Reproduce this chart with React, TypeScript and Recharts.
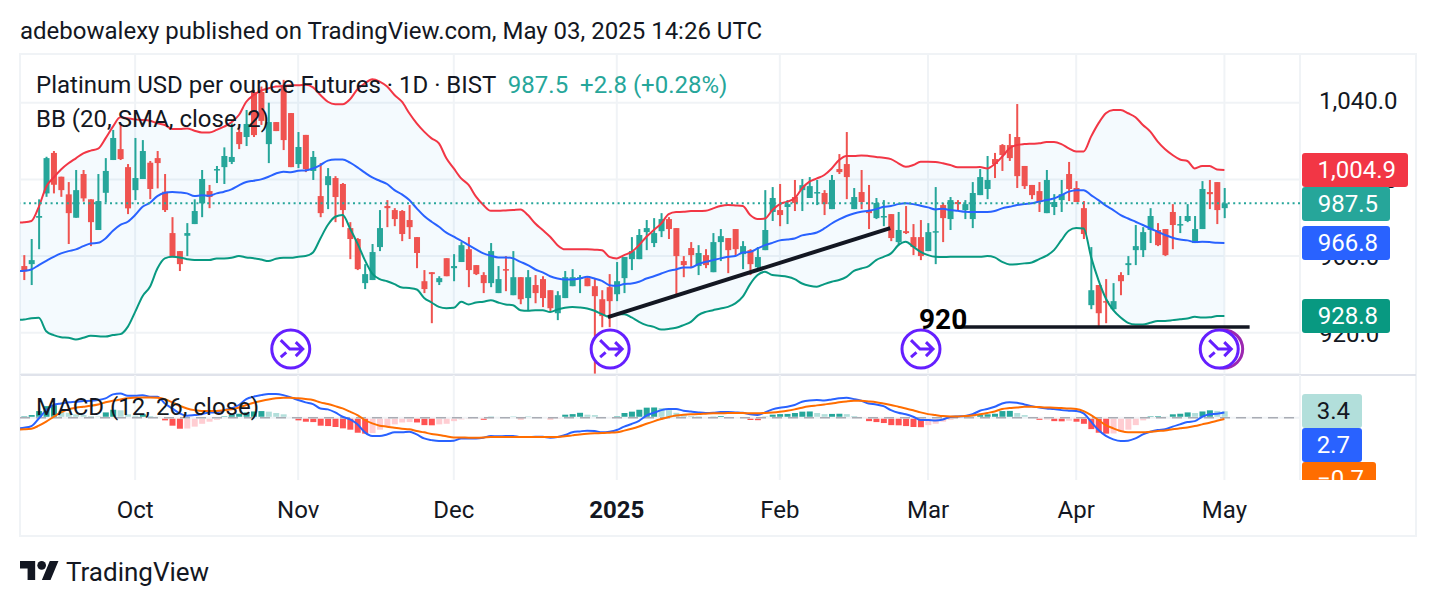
import React from 'react';
import {
  ComposedChart,
  Area,
  Bar,
  Cell,
  Line,
  XAxis,
  YAxis,
  CartesianGrid,
  ReferenceLine,
  ReferenceDot,
} from 'recharts';

const UP = '#26a69a';
const DOWN = '#ef5350';
const INK = '#131722';
const GRID = '#f0f3f6';
const FONT = 'Roboto, sans-serif';

const opens = [
  954.8, 955.8, 980.0, 992.7, 1013.8, 1001.4, 992.2, 980.0, 1002.8, 989.6,
  973.6, 993.0, 1010.1, 1015.8, 1006.4, 994.4, 1000.2, 1008.7, 1011.1, 993.6,
  972.0, 962.6, 970.6, 976.7, 987.5, 993.9, 1004.7, 1006.4, 1009.1, 1024.7,
  1022.1, 1045.6, 1045.6, 1018.4, 1029.9, 1049.3, 1034.6, 1008.0, 1023.2, 1004.4,
  991.3, 997.0, 1000.7, 997.6, 974.6, 968.9, 945.9, 947.5, 964.7, 986.1,
  984.0, 983.5, 978.8, 969.9, 946.9, 951.6, 946.4, 958.9, 953.7, 956.9,
  963.6, 955.3, 950.1, 945.9, 940.7, 953.2, 939.6, 949.0, 938.1, 944.9,
  948.0, 942.2, 930.2, 938.1, 944.3, 948.5, 948.5, 944.3, 937.5, 943.8,
  940.1, 948.5, 958.4, 958.4, 972.5, 966.8, 973.0, 979.3, 974.6, 957.4,
  964.2, 954.8, 960.5, 951.6, 967.3, 969.4, 974.1, 961.0, 963.1, 954.2,
  963.1, 983.0, 984.0, 985.6, 990.8, 994.4, 990.3, 992.9, 992.9, 984.5,
  1005.4, 1008.0, 984.5, 993.4, 983.5, 979.8, 980.3, 981.9, 967.3, 973.0,
  969.9, 969.9, 962.6, 972.5, 986.6, 979.3, 988.2, 984.0, 979.3, 991.8,
  995.0, 1010.6, 1017.9, 1017.9, 1022.1, 1007.0, 997.1, 993.9, 982.4, 985.6,
  989.2, 1002.8, 995.5, 985.0, 934.4, 944.9, 936.5, 932.3, 950.1, 955.3,
  963.1, 963.1, 973.6, 973.6, 974.1, 983.0, 976.2, 978.3, 966.8, 974.1,
  993.4, 998.6, 985.0,
];

const closes = [
  952.0, 957.9, 980.9, 1011.1, 997.2, 994.4, 982.4, 994.4, 990.1, 977.7,
  988.7, 1004.4, 1021.6, 1010.6, 984.9, 1000.7, 1014.8, 995.0, 1008.5, 984.0,
  959.5, 955.8, 972.0, 983.5, 1000.2, 990.8, 1005.4, 1012.2, 1011.7, 1018.4,
  1028.9, 1023.1, 1030.5, 1029.9, 1025.2, 1020.5, 1006.4, 1016.9, 1005.4, 1011.7,
  982.4, 1001.7, 990.8, 984.0, 968.9, 953.2, 950.6, 962.1, 974.6, 985.0,
  979.3, 971.5, 975.1, 961.6, 942.8, 950.6, 948.5, 949.5, 954.8, 965.7,
  952.7, 950.6, 945.9, 962.6, 948.0, 952.7, 949.0, 937.5, 949.0, 940.7,
  938.1, 932.8, 939.6, 949.0, 949.0, 949.0, 944.3, 939.1, 928.7, 936.5,
  946.9, 959.5, 962.6, 971.0, 974.6, 972.0, 979.3, 974.1, 960.0, 955.3,
  960.5, 961.6, 955.3, 967.3, 970.4, 963.1, 963.6, 965.2, 955.8, 959.5,
  973.6, 990.3, 981.4, 987.1, 987.7, 997.0, 996.5, 993.4, 987.1, 999.7,
  1003.8, 1001.2, 990.8, 988.2, 982.4, 987.7, 980.9, 969.4, 973.6, 972.0,
  964.7, 960.0, 972.5, 973.0, 979.8, 989.2, 987.1, 987.1, 992.9, 1001.2,
  999.7, 1008.0, 1012.7, 1011.1, 1001.7, 996.5, 991.8, 988.2, 999.7, 988.2,
  992.3, 995.0, 988.2, 971.5, 942.2, 930.2, 936.0, 936.5, 946.9, 956.3,
  965.2, 972.5, 980.9, 965.7, 960.5, 976.2, 976.7, 980.9, 974.1, 995.0,
  992.3, 984.0, 987.5,
];

const highs = [
  960.5, 968.9, 989.6, 1011.8, 1014.8, 1001.4, 998.6, 1004.9, 1004.9, 989.6,
  1002.8, 1011.1, 1025.8, 1029.2, 1008.0, 1021.6, 1020.5, 1009.6, 1014.8, 1002.8,
  980.3, 962.6, 977.2, 989.6, 1004.9, 997.1, 1007.0, 1016.7, 1029.2, 1027.5,
  1036.2, 1046.6, 1048.4, 1040.0, 1029.9, 1051.9, 1034.6, 1024.7, 1023.2, 1014.8,
  1008.5, 1005.9, 1001.7, 998.1, 977.7, 969.4, 955.8, 966.3, 984.0, 989.2,
  985.0, 984.0, 986.6, 969.9, 952.7, 951.6, 949.5, 958.9, 961.0, 967.3,
  969.9, 955.3, 951.6, 966.8, 954.8, 960.0, 962.6, 949.0, 952.7, 950.1,
  949.5, 942.2, 941.7, 952.2, 953.2, 950.1, 949.5, 948.0, 942.2, 950.6,
  956.9, 959.5, 969.9, 974.1, 978.8, 979.8, 982.4, 980.3, 974.6, 960.0,
  967.3, 965.7, 963.6, 972.0, 974.1, 969.4, 974.1, 967.8, 963.6, 964.7,
  994.4, 996.0, 997.6, 989.2, 999.7, 1000.2, 1001.2, 999.7, 994.4, 1002.3,
  1013.2, 1024.7, 995.5, 1004.9, 997.1, 990.3, 989.2, 981.9, 983.0, 986.1,
  976.7, 978.8, 977.2, 996.0, 987.7, 990.8, 989.2, 989.2, 998.6, 1005.4,
  1012.2, 1013.8, 1018.4, 1023.7, 1039.3, 1007.0, 997.1, 998.6, 1004.9, 992.3,
  999.7, 1009.1, 999.1, 988.7, 964.7, 944.9, 948.0, 945.9, 951.6, 960.0,
  976.2, 975.1, 985.0, 977.2, 974.1, 987.1, 980.9, 987.1, 980.9, 999.1,
  999.7, 998.6, 995.5,
];

const lows = [
  947.5, 944.9, 963.6, 990.9, 992.7, 990.9, 966.3, 980.0, 988.4, 965.2,
  973.6, 988.0, 1010.1, 1010.1, 981.9, 989.2, 1000.2, 989.7, 995.3, 983.0,
  959.5, 952.2, 960.0, 976.7, 980.3, 985.0, 998.1, 997.6, 1008.0, 1015.8,
  1017.4, 1022.1, 1028.4, 1008.5, 1025.2, 1015.3, 1006.4, 1005.9, 1003.8, 999.7,
  980.3, 984.5, 977.7, 975.1, 958.4, 952.7, 942.8, 947.5, 962.6, 975.1,
  975.6, 967.8, 968.9, 953.7, 940.7, 925.0, 944.9, 949.5, 946.9, 956.9,
  943.8, 950.1, 940.7, 943.8, 940.7, 941.7, 939.6, 934.9, 931.3, 935.4,
  933.4, 930.8, 926.6, 938.1, 944.3, 940.7, 944.3, 898.7, 922.9, 922.9,
  936.5, 940.7, 952.7, 958.4, 963.1, 964.7, 969.9, 968.9, 940.1, 949.0,
  953.7, 950.1, 953.7, 951.6, 957.4, 951.1, 960.0, 953.2, 950.1, 953.7,
  963.1, 978.3, 975.6, 976.7, 983.5, 983.5, 990.3, 986.6, 981.4, 984.5,
  1002.8, 989.7, 984.5, 984.5, 974.1, 979.3, 975.6, 967.8, 965.7, 971.5,
  960.5, 957.9, 962.6, 955.8, 967.3, 973.6, 984.0, 979.3, 974.6, 991.8,
  989.7, 1000.7, 1004.4, 1009.6, 995.5, 995.0, 989.7, 983.0, 982.4, 981.4,
  983.0, 988.7, 988.2, 968.9, 932.3, 923.4, 925.0, 931.8, 939.6, 950.1,
  955.3, 959.5, 966.8, 965.2, 960.0, 963.6, 972.0, 977.7, 966.8, 974.1,
  984.5, 976.7, 979.8,
];

const bbUpper = [
  977.6, 978.3, 985.7, 996.2, 1001.0, 1005.2, 1008.4, 1011.0, 1013.6, 1015.0,
  1016.0, 1021.4, 1027.5, 1032.4, 1031.9, 1031.3, 1031.0, 1030.6, 1029.2, 1028.4,
  1026.3, 1026.3, 1026.6, 1025.4, 1024.5, 1024.5, 1025.8, 1027.5, 1029.8, 1033.6,
  1040.5, 1044.0, 1046.3, 1047.5, 1048.4, 1048.7, 1049.1, 1049.1, 1049.3, 1048.0,
  1044.0, 1040.5, 1039.2, 1039.2, 1041.8, 1047.0, 1050.1, 1052.2, 1051.0, 1048.4,
  1044.0, 1040.5, 1034.5, 1029.2, 1024.9, 1021.4, 1018.8, 1011.0, 1005.7, 1000.5,
  997.1, 991.0, 986.6, 983.6, 983.6, 983.8, 984.0, 984.3, 981.4, 977.0,
  973.6, 970.1, 965.7, 963.5, 963.5, 963.5, 963.5, 963.3, 963.1, 959.6,
  958.8, 960.5, 962.2, 965.7, 970.1, 973.6, 977.0, 981.9, 983.0, 983.1,
  983.5, 983.5, 983.6, 984.9, 986.1, 986.6, 986.4, 986.1, 981.4, 979.3,
  979.6, 984.0, 987.1, 988.4, 990.1, 995.3, 998.8, 1000.5, 1002.3, 1005.7,
  1010.1, 1012.2, 1012.2, 1012.5, 1012.2, 1011.7, 1011.3, 1010.6, 1008.4, 1006.6,
  1007.5, 1009.2, 1009.2, 1009.1, 1008.4, 1007.5, 1006.3, 1006.3, 1006.3, 1006.4,
  1005.7, 1008.0, 1011.8, 1016.2, 1017.9, 1018.4, 1018.6, 1018.8, 1019.5, 1019.5,
  1018.4, 1016.2, 1014.6, 1014.6, 1022.3, 1029.2, 1034.5, 1036.2, 1036.2, 1034.5,
  1032.4, 1028.4, 1024.9, 1019.7, 1015.7, 1012.7, 1010.4, 1009.6, 1005.7, 1007.0,
  1007.0, 1005.2, 1004.9,
];

const bbMid = [
  952.3, 953.0, 955.3, 957.5, 959.6, 961.4, 962.6, 963.5, 965.2, 966.6,
  966.9, 969.2, 973.2, 976.3, 977.9, 981.4, 985.7, 987.8, 991.3, 993.0,
  993.4, 993.2, 992.7, 991.3, 991.7, 991.5, 992.7, 993.6, 994.8, 996.9,
  998.6, 999.3, 1000.0, 1001.4, 1003.1, 1004.0, 1003.7, 1004.5, 1004.7, 1005.7,
  1007.5, 1009.8, 1010.4, 1010.4, 1008.7, 1006.3, 1003.5, 1001.0, 999.3, 997.6,
  994.4, 992.2, 989.2, 984.9, 980.9, 977.9, 975.3, 972.2, 970.1, 968.0,
  965.7, 963.5, 961.4, 960.2, 959.3, 959.3, 958.8, 957.0, 955.3, 953.0,
  951.5, 949.5, 948.3, 947.8, 947.8, 948.3, 949.2, 948.3, 947.1, 944.8,
  944.5, 945.4, 945.7, 946.6, 948.3, 949.5, 950.9, 952.3, 953.0, 954.1,
  954.1, 955.8, 957.0, 957.9, 958.8, 959.6, 960.0, 961.9, 962.2, 964.0,
  965.7, 966.9, 968.2, 968.7, 969.2, 970.8, 971.5, 972.3, 974.4, 977.0,
  979.1, 980.9, 982.2, 983.1, 983.6, 984.5, 985.7, 986.1, 987.1, 987.5,
  987.1, 986.3, 985.4, 984.3, 984.7, 984.0, 983.6, 983.1, 983.0, 983.0,
  983.0, 983.5, 984.9, 985.7, 986.6, 987.1, 987.5, 988.4, 989.2, 990.1,
  991.8, 993.6, 994.4, 994.4, 991.8, 989.2, 986.3, 984.0, 981.4, 979.6,
  977.9, 976.2, 974.4, 972.7, 971.0, 969.6, 968.7, 968.2, 967.3, 967.5,
  967.3, 966.9, 966.8,
];

const bbLower = [
  926.9, 927.6, 927.8, 920.8, 918.8, 917.7, 917.4, 916.5, 917.4, 918.4,
  918.2, 918.0, 918.8, 919.3, 923.1, 930.9, 939.1, 944.0, 953.5, 958.8,
  959.6, 959.3, 958.4, 957.9, 957.9, 957.9, 958.8, 958.8, 959.1, 960.0,
  959.3, 958.9, 958.2, 957.4, 958.6, 959.1, 959.1, 959.6, 960.0, 961.9,
  969.2, 976.2, 980.5, 981.4, 974.4, 966.6, 957.9, 950.9, 948.0, 946.9,
  945.4, 943.6, 943.3, 942.6, 938.2, 935.8, 933.5, 932.8, 933.0, 936.2,
  934.8, 935.8, 936.2, 937.0, 935.8, 934.8, 934.4, 931.8, 931.5, 931.8,
  931.8, 930.8, 932.1, 933.0, 933.4, 933.2, 932.7, 931.5, 929.7, 928.3,
  929.7, 929.7, 928.0, 925.7, 924.0, 923.1, 921.7, 922.0, 922.6, 924.0,
  925.7, 929.2, 930.9, 931.8, 932.7, 933.5, 935.3, 938.8, 945.4, 950.1,
  951.8, 950.1, 949.7, 949.2, 948.0, 945.7, 944.5, 944.0, 945.4, 946.6,
  947.5, 949.2, 952.3, 953.5, 954.8, 957.9, 959.6, 961.4, 965.7, 967.5,
  964.9, 962.2, 960.5, 959.6, 959.5, 959.6, 959.6, 959.6, 959.6, 959.6,
  960.0, 959.3, 957.0, 955.6, 955.8, 956.2, 956.7, 958.4, 960.2, 963.1,
  968.3, 973.2, 974.6, 974.4, 959.6, 947.5, 937.9, 931.8, 928.0, 925.2,
  924.3, 924.3, 925.2, 926.2, 926.2, 926.6, 927.1, 927.5, 928.3, 928.0,
  928.1, 928.7, 928.8,
];

const histogram = [
  0.7, 1.4, 3.5, 6.1, 6.6, 3.5, 2.6, 1.8, 1.4, 0.9,
  0.7, 2.8, 4.2, 3.9, 1.8, 1.1, 1.8, 0.9, 0.5, -1.4,
  -4.2, -5.8, -5.7, -4.7, -3.2, -2.1, -1.1, 0.7, 1.4, 2.1,
  2.8, 3.3, 3.5, 3.2, 2.5, 1.8, 0.2, -1.4, -2.1, -2.3,
  -4.2, -4.4, -4.9, -5.6, -6.3, -7.9, -8.4, -8.1, -6.3, -4.9,
  -3.5, -2.5, -2.3, -2.5, -3.9, -4.0, -3.5, -3.2, -1.8, -0.9,
  -0.7, -0.5, -1.1, 0.5, 0.4, 0.3, 0.5, -0.8, 0.5, 0.3,
  0.3, -0.8, -0.6, 1.6, 1.9, 2.6, 1.6, 1.4, 0.4, 0.2,
  0.7, 2.5, 3.2, 4.2, 5.3, 5.4, 5.1, 4.0, 2.6, 1.4,
  0.9, 0.7, 0.4, 0.5, 0.9, 0.4, 0.2, 0.1, -1.2, -1.3,
  0.5, 1.6, 1.9, 2.0, 2.5, 3.2, 3.3, 2.5, 1.9, 2.0,
  2.1, 1.9, 0.9, 0.2, -1.8, -2.3, -2.8, -3.9, -4.0, -4.4,
  -4.9, -5.0, -3.9, -3.2, -2.1, -1.1, 0.5, 0.5, 0.5, 1.4,
  1.8, 2.1, 3.5, 3.6, 2.5, 1.4, 0.4, -1.1, -0.9, -1.8,
  -1.9, -1.6, -2.1, -3.2, -6.0, -7.9, -8.4, -8.3, -7.4, -6.3,
  -3.9, -1.4, 0.7, 0.8, 0.5, 1.8, 2.1, 2.8, 2.5, 3.3,
  3.9, 3.6, 3.4,
];

const macdLine = [
  -5.3, -4.4, -0.4, 4.0, 6.7, 7.5, 8.1, 8.4, 8.8, 8.9,
  9.3, 10.2, 12.3, 12.8, 11.6, 11.6, 11.9, 11.1, 11.1, 7.5,
  4.9, 2.3, 1.1, 1.4, 1.8, 2.8, 2.8, 4.0, 4.9, 6.7,
  9.8, 11.1, 11.9, 12.5, 12.5, 11.9, 10.7, 9.3, 8.1, 7.2,
  4.9, 4.4, 2.8, 0.5, -0.9, -3.5, -7.7, -9.6, -9.6, -8.8,
  -7.7, -7.7, -7.4, -8.8, -10.9, -11.8, -12.3, -12.3, -12.1, -10.9,
  -10.9, -10.9, -10.5, -9.6, -9.8, -9.6, -9.6, -10.2, -10.2, -10.0,
  -10.0, -10.5, -10.2, -9.1, -7.7, -7.2, -6.8, -7.0, -7.7, -7.4,
  -6.5, -4.7, -3.3, -1.6, 1.1, 2.6, 4.0, 4.6, 4.6, 3.7,
  3.3, 2.8, 2.5, 2.6, 3.0, 3.0, 2.8, 2.6, 1.8, 1.4,
  2.8, 4.4, 5.3, 5.8, 6.7, 8.4, 9.1, 9.3, 9.1, 9.6,
  10.2, 10.5, 9.8, 8.9, 7.5, 7.0, 6.1, 4.0, 2.6, 1.8,
  0.5, -1.2, -1.2, -1.4, -0.9, 0.4, 0.7, 0.9, 1.8, 3.7,
  4.6, 5.8, 7.5, 8.2, 7.9, 7.0, 6.1, 5.4, 4.9, 4.6,
  4.0, 3.7, 3.5, 2.3, -2.1, -6.5, -9.6, -11.4, -12.3, -12.1,
  -10.9, -8.8, -7.4, -6.5, -6.1, -4.7, -3.5, -2.3, -1.8, 0.5,
  1.8, 2.1, 2.7,
];

const signalLine = [
  -6.1, -5.8, -4.2, -2.1, 0.5, 2.8, 4.4, 5.3, 5.8, 6.3,
  7.0, 8.1, 8.9, 9.6, 10.2, 10.5, 10.7, 10.7, 10.5, 9.8,
  8.1, 6.3, 4.9, 4.0, 3.5, 3.5, 3.5, 3.9, 4.4, 5.4,
  6.7, 7.9, 8.8, 9.6, 10.2, 10.5, 10.5, 10.2, 9.8, 9.3,
  8.1, 7.2, 6.1, 4.9, 3.2, 1.4, -1.2, -3.0, -4.2, -4.7,
  -5.3, -5.8, -6.1, -7.0, -7.7, -8.6, -9.1, -9.8, -10.4, -10.4,
  -10.5, -10.5, -10.4, -10.2, -10.2, -10.2, -10.2, -10.2, -10.2, -10.2,
  -10.2, -10.2, -10.2, -9.8, -9.3, -8.8, -8.4, -8.2, -8.1, -7.9,
  -7.7, -6.8, -5.8, -4.6, -3.2, -1.9, -0.7, 0.4, 1.2, 1.6,
  1.8, 1.9, 2.1, 2.3, 2.3, 2.5, 2.5, 2.5, 2.3, 2.3,
  2.5, 2.8, 3.2, 3.7, 4.4, 5.3, 6.0, 6.5, 7.0, 7.5,
  8.1, 8.6, 8.9, 8.9, 8.6, 8.2, 7.5, 6.7, 5.8, 4.9,
  3.9, 2.8, 1.9, 1.4, 0.9, 0.7, 0.7, 0.9, 1.2, 1.8,
  2.5, 3.3, 4.6, 5.1, 5.4, 5.8, 5.8, 5.6, 5.4, 5.3,
  5.1, 4.9, 4.6, 3.5, 1.4, -1.2, -3.9, -5.6, -7.0, -7.7,
  -7.7, -7.7, -7.4, -7.0, -6.7, -6.1, -5.6, -5.1, -4.4, -3.5,
  -2.6, -1.6, -0.7,
];

const monthTicks = [15, 37, 58, 80, 102, 122, 142, 162];
const monthLabels = ['Oct', 'Nov', 'Dec', '2025', 'Feb', 'Mar', 'Apr', 'May'];
const priceTicks = [920, 960, 1000, 1040];
const lastClose = 987.5;

// values of the bar just before the visible range, so the lines reach the left edge
const leadBand = { upper: 977.4, mid: 952.1, lower: 926.7 };
const leadMacd = { macd: -5.6, signal: -6.2 };

// drawings on the price pane, in bar index / price
const trendLine = [{ x: 78.8, y: 928.2 }, { x: 116.9, y: 974.6 }];
const supportLine = [{ x: 125.6, y: 923 }, { x: 165.4, y: 923 }];
const ideaMarkers = [36, 79.1, 121.05, 161.3];
const ideaMarkerBack = 161.9;
const ideaPrice = 911.5;

const xDomain: [number, number] = [-0.54, 172.2];
const priceDomain: [number, number] = [898.5, 1065.4];
const macdDomain: [number, number] = [-32.8, 22.5];

const candles: any[] = [
  { i: -1, ...leadBand, band: [leadBand.lower, leadBand.upper] },
  ...closes.map((c, i) => ({
    i,
    open: opens[i],
    high: highs[i],
    low: lows[i],
    close: c,
    range: [lows[i], highs[i]],
    upper: bbUpper[i],
    mid: bbMid[i],
    lower: bbLower[i],
    band: [bbLower[i], bbUpper[i]],
  })),
];

const macdRows: any[] = [
  { i: -1, ...leadMacd },
  ...histogram.map((h, i) => ({ i, hist: h, macd: macdLine[i], signal: signalLine[i] })),
];

function histColor(i: number) {
  if (i < 0) return 'none';
  const h = histogram[i];
  const prev = i > 0 ? histogram[i - 1] : 0;
  if (h >= 0) return h >= prev ? UP : '#b2dfdb';
  return h <= prev ? '#ff5252' : '#ffcdd2';
}

const Candle = (props: any) => {
  const { x, y, width, height, payload } = props;
  if (payload.high === undefined) return null;
  const h = Math.abs(height);
  const k = h / (payload.high - payload.low);
  const yOpen = y + (payload.high - payload.open) * k;
  const yClose = y + (payload.high - payload.close) * k;
  const color = payload.close >= payload.open ? UP : DOWN;
  return (
    <g>
      <rect x={x + width / 2 - 1} y={y} width={2} height={h} fill={color} />
      <rect
        x={x}
        y={Math.min(yOpen, yClose)}
        width={width}
        height={Math.max(Math.abs(yOpen - yClose), 1.5)}
        fill={color}
      />
    </g>
  );
};

const IdeaMarker = (props: any) => {
  const { cx, cy, color } = props;
  return (
    <g fill="none" stroke={color} strokeWidth={3}>
      <circle cx={cx} cy={cy} r={19} fill="#fff" />
      <path
        d="M-10 -9 L-1 0 L12 0 M5 -7 L12 0 L5 7 M-10 8 L-4.5 3.3"
        transform={`translate(${cx} ${cy})`}
      />
    </g>
  );
};

const PriceTick = (props: any) => {
  const { x, y, payload } = props;
  // the top label sits a little above its grid line in the original
  const dy = payload.value === 1040 ? -2 : 0.5;
  return (
    <text x={x - 1} y={y + dy + 8.5} fontFamily={FONT} fontSize={24} fill={INK}>
      {payload.value.toLocaleString('en-US', { minimumFractionDigits: 1 })}
    </text>
  );
};

const MonthTick = (props: any) => {
  const { x, y, payload } = props;
  const label = monthLabels[monthTicks.indexOf(payload.value)];
  return (
    <text
      x={x}
      y={y + 35.5}
      textAnchor="middle"
      fontFamily={FONT}
      fontSize={24}
      fontWeight={label === '2025' ? 700 : 400}
      fill={INK}
    >
      {label}
    </text>
  );
};

const Badge = ({ top, width, color, text, height = 34, ink = '#fff' }: any) => (
  <div
    style={{
      position: 'absolute',
      left: 1302,
      top,
      width,
      height,
      background: color,
      color: ink,
      borderRadius: 3,
      font: `24px/34px ${FONT}`,
      paddingRight: 12,
      boxSizing: 'border-box',
      textAlign: 'right',
    }}
  >
    {text}
  </div>
);

const textStyle: React.CSSProperties = {
  position: 'absolute',
  fontFamily: FONT,
  fontSize: 24,
  color: INK,
  whiteSpace: 'pre',
  lineHeight: '30px',
};

export default function App() {
  return (
    <div style={{ position: 'absolute', left: 0, top: 0, width: 1436, height: 606, background: '#fff', overflow: 'hidden' }}>
      <div style={{ ...textStyle, left: 20, top: 16 }}>
        adebowalexy published on TradingView.com, May 03, 2025 14:26 UTC
      </div>

      <div style={{ position: 'absolute', left: 19, top: 53, width: 1398, height: 484, boxSizing: 'border-box', border: `2px solid ${GRID}` }} />

      <div style={{ position: 'absolute', left: 20, top: 54 }}>
        <ComposedChart width={1396} height={320} data={candles} margin={{ top: 0, right: 0, bottom: 0, left: 0 }}>
          <CartesianGrid stroke={GRID} strokeWidth={2} />
          <XAxis dataKey="i" type="number" domain={xDomain} ticks={monthTicks} allowDataOverflow hide />
          <YAxis
            orientation="right"
            width={116}
            domain={priceDomain}
            ticks={priceTicks}
            allowDataOverflow
            axisLine={false}
            tickLine={false}
            tickSize={0}
            tickMargin={20}
            tick={<PriceTick />}
          />
          <Area dataKey="band" stroke="none" fill="#2196f3" fillOpacity={0.05} type="monotone" isAnimationActive={false} />
          <Bar dataKey="range" barSize={6} shape={<Candle />} isAnimationActive={false} />
          <Line dataKey="upper" stroke="#f23645" strokeWidth={2} dot={false} type="monotone" isAnimationActive={false} />
          <Line dataKey="mid" stroke="#2962ff" strokeWidth={2} dot={false} type="monotone" isAnimationActive={false} />
          <Line dataKey="lower" stroke="#089981" strokeWidth={2} dot={false} type="monotone" isAnimationActive={false} />
          <ReferenceLine y={lastClose} stroke={UP} strokeWidth={2} strokeDasharray="2 3.4" />
          <ReferenceLine segment={trendLine} stroke={INK} strokeWidth={4} />
          <ReferenceLine segment={supportLine} stroke={INK} strokeWidth={3.5} ifOverflow="visible" />
          <ReferenceDot x={ideaMarkerBack} y={ideaPrice} shape={<IdeaMarker color="#9c27b0" />} ifOverflow="visible" />
          {ideaMarkers.map(m => (
            <ReferenceDot key={m} x={m} y={ideaPrice} shape={<IdeaMarker color="#651fff" />} ifOverflow="visible" />
          ))}
        </ComposedChart>
      </div>

      <div style={{ position: 'absolute', left: 20, top: 374, width: 1396, height: 2, background: '#e0e3eb' }} />

      <div style={{ position: 'absolute', left: 20, top: 375 }}>
        <ComposedChart width={1396} height={160} data={macdRows} margin={{ top: 0, right: 116, bottom: 0, left: 0 }}>
          <CartesianGrid stroke={GRID} strokeWidth={2} horizontal={false} />
          <XAxis
            dataKey="i"
            type="number"
            domain={xDomain}
            ticks={monthTicks}
            allowDataOverflow
            height={55}
            axisLine={false}
            tickLine={false}
            tickSize={0}
            tick={<MonthTick />}
            interval={0}
          />
          <YAxis hide domain={macdDomain} allowDataOverflow />
          <ReferenceLine y={0} stroke={GRID} strokeWidth={2} />
          <Bar dataKey="hist" barSize={6} isAnimationActive={false}>
            {macdRows.map(r => (
              <Cell key={r.i} fill={histColor(r.i)} />
            ))}
          </Bar>
          <ReferenceLine y={0} stroke="#a9acb4" strokeWidth={1.5} strokeDasharray="10 6" />
          <Line dataKey="macd" stroke="#2962ff" strokeWidth={2} dot={false} type="monotone" isAnimationActive={false} />
          <Line dataKey="signal" stroke="#ff6d00" strokeWidth={2} dot={false} type="monotone" isAnimationActive={false} />
        </ComposedChart>
      </div>

      <div style={{ ...textStyle, left: 36, top: 70 }}>
        Platinum USD per ounce Futures · 1D · BIST
        <span style={{ color: UP }}>{'  987.5  +2.8 (+0.28%)'}</span>
      </div>
      <div style={{ ...textStyle, left: 36, top: 104 }}>BB (20, SMA, close, 2)</div>
      <div style={{ ...textStyle, left: 36, top: 392 }}>MACD (12, 26, close)</div>
      <div style={{ ...textStyle, left: 919, top: 305, fontSize: 28, fontWeight: 700, color: '#000' }}>920</div>

      <Badge top={153} width={106} color="#f23645" text="1,004.9" />
      <Badge top={187} width={88} color={UP} text="987.5" />
      <Badge top={226} width={88} color="#2962ff" text="966.8" />
      <Badge top={299} width={88} color="#089981" text="928.8" />

      <Badge top={394} width={60} color="#b2dfdb" ink={INK} text="3.4" />
      <Badge top={428} width={60} color="#2962ff" text="2.7" />
      <div style={{ position: 'absolute', left: 0, top: 462, width: 1436, height: 18, overflow: 'hidden' }}>
        <Badge top={0} width={74} color="#ff6d00" text="−0.7" />
      </div>

      <svg style={{ position: 'absolute', left: 20, top: 560.5 }} width={39} height={19.5} viewBox="0 4 36 18">
        <path d="M14 22H7V11H0V4h14v18zM28 22h-8l7.5-18h8L28 22z" fill={INK} />
        <circle cx={20} cy={8} r={4} fill={INK} />
      </svg>
      <div style={{ ...textStyle, left: 66, top: 557, fontSize: 26 }}>TradingView</div>
    </div>
  );
}
